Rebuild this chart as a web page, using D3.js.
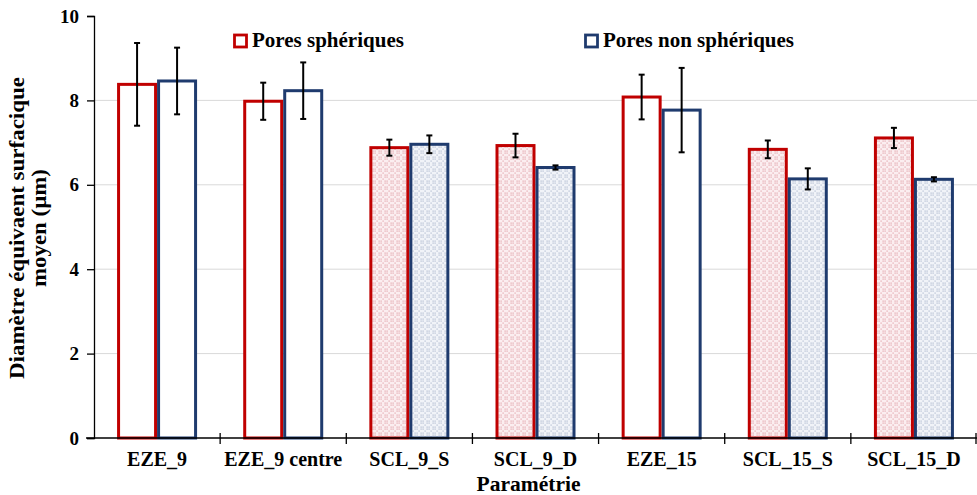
<!DOCTYPE html>
<html><head><meta charset="utf-8">
<script src="https://cdn.jsdelivr.net/npm/d3@7"></script>
<style>body{margin:0;background:#fff}svg{display:block}svg text{font-family:"Liberation Serif","Times New Roman",serif;font-weight:bold}</style>
</head><body><svg id="c" width="977" height="495"></svg>
<script>
const categories = ["EZE_9","EZE_9 centre","SCL_9_S","SCL_9_D","EZE_15","SCL_15_S","SCL_15_D"];
const spherique = [8.38,7.98,6.88,6.93,8.08,6.84,7.11];
const spheriqueErr = [0.98,0.44,0.19,0.28,0.53,0.21,0.24];
const nonSpherique = [8.46,8.23,6.96,6.41,7.77,6.14,6.13];
const nonSpheriqueErr = [0.79,0.67,0.21,0.05,1.0,0.25,0.05];
const patterned = [false,false,true,true,false,true,true];
const yTicks = [0,2,4,6,8,10];
const seriesNames = ["Pores sphériques","Pores non sphériques"];

const FONT = "Liberation Serif";
const svg = d3.select("#c");
const m = {l:94, r:977, t:16, b:438};
const x = d3.scaleBand().domain(categories).range([m.l, m.r]).paddingInner(0).paddingOuter(0);
const y = d3.scaleLinear().domain([0,10]).range([m.b, m.t]);
const inner = d3.scaleBand().domain([0,1]).range([0, 80]);

const defs = svg.append("defs");
function pat(id, bg, dot){
  const p = defs.append("pattern").attr("id",id).attr("patternUnits","userSpaceOnUse").attr("width",6).attr("height",6);
  p.append("rect").attr("width",6).attr("height",6).attr("fill",bg);
  [[1,1],[3,1],[1,3],[3,3],[5,5]].forEach(([cx,cy])=>p.append("rect").attr("x",cx-0.5).attr("y",cy-0.5).attr("width",1.2).attr("height",1.2).attr("fill",dot));
}
pat("pr","#fbeef0","#e3a6ad");
pat("pb","#f1f3f8","#b3bdd2");

svg.append("g").selectAll("line").data(yTicks.filter(d=>d>0 && d<10)).join("line")
  .attr("x1",m.l).attr("x2",m.r).attr("y1",d=>y(d)).attr("y2",d=>y(d))
  .attr("stroke","#d9d9d9").attr("stroke-width",1);

const colors = ["#c00000","#1f3b6e"];
const series = [[spherique,spheriqueErr],[nonSpherique,nonSpheriqueErr]];
series.forEach(([vals,errs],si)=>{
  const g = svg.append("g");
  categories.forEach((c,i)=>{
    const bx = x(c) + (x.bandwidth()-80)/2 + inner(si);
    g.append("rect").attr("x",bx+1.5).attr("y",y(vals[i])).attr("width",inner.bandwidth()-3)
      .attr("height",y(0)-y(vals[i]))
      .attr("fill", patterned[i] ? (si===0?"url(#pr)":"url(#pb)") : "#fff")
      .attr("stroke",colors[si]).attr("stroke-width",3);
  });
});
series.forEach(([vals,errs],si)=>{
  const g = svg.append("g");
  categories.forEach((c,i)=>{
    const cx = x(c) + (x.bandwidth()-80)/2 + inner(si) + inner.bandwidth()/2;
    const y1 = y(vals[i]+errs[i]), y2 = y(vals[i]-errs[i]);
    g.append("line").attr("x1",cx).attr("x2",cx).attr("y1",y1).attr("y2",y2).attr("stroke","#000").attr("stroke-width",2);
    [y1,y2].forEach(yy=>g.append("line").attr("x1",cx-3).attr("x2",cx+3).attr("y1",yy).attr("y2",yy).attr("stroke","#000").attr("stroke-width",2));
  });
});

const ya = svg.append("g").attr("transform",`translate(${m.l},0)`)
  .call(d3.axisLeft(y).tickValues(yTicks).tickFormat(d3.format("d")).tickSize(7).tickPadding(8));
ya.attr("font-family",FONT);
ya.select(".domain").attr("stroke","#000").attr("stroke-width",1.3);
ya.selectAll(".tick line").attr("stroke","#000").attr("stroke-width",1.3);
ya.selectAll("text").attr("font-size",19).attr("fill","#000").attr("font-family",FONT).attr("font-weight","bold");

const xa = svg.append("g").attr("transform",`translate(0,${m.b})`);
xa.append("line").attr("x1",m.l-8).attr("x2",m.r).attr("y1",0).attr("y2",0).attr("stroke","#000").attr("stroke-width",1.3);
const bounds = categories.map(c=>x(c)).slice(1).concat([m.r-1]);
xa.selectAll(".tk").data(bounds).join("line").attr("class","tk")
  .attr("x1",d=>d).attr("x2",d=>d).attr("y1",-5).attr("y2",6).attr("stroke","#000").attr("stroke-width",1.3);
xa.selectAll(".lb").data(categories).join("text").attr("class","lb")
  .attr("x",d=>x(d)+x.bandwidth()/2).attr("y",28).attr("text-anchor","middle")
  .attr("font-family",FONT).attr("font-size",20).text(d=>d);
svg.append("text").attr("x",(m.l+m.r)/2-7).attr("y",491).attr("text-anchor","middle").attr("font-family",FONT).attr("font-size",20)
  .attr("textLength",104).attr("lengthAdjust","spacingAndGlyphs").text("Paramétrie");

const yt = svg.append("text").attr("transform","translate(24,228) rotate(-90)").attr("text-anchor","middle").attr("font-family",FONT).attr("font-size",20);
yt.append("tspan").attr("x",0).attr("y",0).attr("textLength",302).attr("lengthAdjust","spacingAndGlyphs").text("Diamètre équivaent surfacique");
yt.append("tspan").attr("x",0).attr("y",22).attr("textLength",118).attr("lengthAdjust","spacingAndGlyphs").text("moyen (µm)");

const legX = [240, 591];
seriesNames.forEach((n,i)=>{
  svg.append("rect").attr("x",legX[i]-5.5).attr("y",35).attr("width",12).attr("height",12)
    .attr("fill","#fff").attr("stroke",colors[i]).attr("stroke-width",2.8);
  svg.append("text").attr("x",legX[i]+12).attr("y",47).attr("font-family",FONT).attr("font-size",21).text(n);
});
</script></body></html>
